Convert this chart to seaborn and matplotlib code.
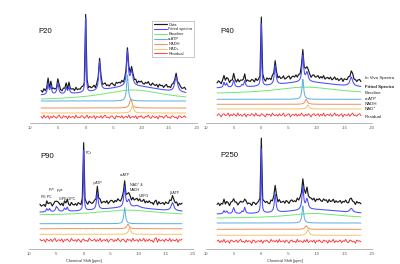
import numpy as np
import matplotlib
matplotlib.use("Agg")
import matplotlib.pyplot as plt
import seaborn as sns

# ---------------- data ----------------
panel_names = ["P20", "P40", "P90", "P250"]
tick_values = [10, 5, 0, -5, -10, -15, -20]
tick_labels = ["10", "5", "0", "-5", "-10", "-15", "-20"]
legend_labels = ["Data", "Fitted spectra", "Baseline", "α-ATP", "NADH", "NAD+", "Residual"]
side_labels = ["In Vivo Spectra", "Fitted Spectra", "Baseline", "α-ATP", "NADH", "NAD⁺", "Residual"]

# fitted peaks: chemical shift [ppm], half width [ppm], amplitude per age
peak_ppm = [6.75, 6.25, 5.0, 4.75, 3.5, 3.0, 0.0, -2.5, -7.5, -8.25, -9.75, -16.25]
peak_hw = [0.15, 0.15, 0.18, 0.18, 0.15, 0.15, 0.08, 0.18, 0.18, 0.25, 0.6, 0.3]
amp_p20 = [11, 8, 11, 0, 6, 6, 74, 29, 34, 14, 0, 15]
amp_p40 = [5, 4, 7, 0, 2, 6, 62, 19, 26, 9, 0, 9]
amp_p90 = [3, 3, 4.5, 2, 3, 4, 60, 16, 20, 7, 2, 8]
amp_p250 = [3, 2.5, 6, 0, 2, 6, 64, 18, 22, 10, 0, 4]

# broad baseline hump per age: amplitude, centre [ppm], width [ppm]
hump_amp = [10.6, 7.0, 5.5, 5.0]
hump_center = [-8.5, -8.0, -8.0, -9.5]
hump_width = [7.0, 7.0, 7.0, 6.0]

# components
alpha_ppm, alpha_hw = -7.5, 0.18
alpha_amp = [26, 20, 16, 17]
nadh_ppm, nadh_hw = -8.1, 0.25
nadh_amp = [9, 5, 4.5, 3.5]
nad_ppm, nad_hw = -8.4, 0.25
nad_amp = [7, 4, 6, 5.5]

# residual (noise) samples, 0.25 ppm apart from 8 to -18 ppm
res_p20 = [1,-2,3,-1,0,2,-3,1,-1,2,0,-2,1,3,-1,
           -2,2,0,1,-3,2,-1,0,1,-2,3,-1,0,-1,2,
           1,-2,0,3,-2,1,-1,0,2,-3,1,0,-1,2,-2,
           1,3,-1,0,-2,1,2,-1,-3,2,0,1,-1,2,-2,
           0,1,-1,3,-2,0,1,-1,2,-3,1,0,2,-1,-2,
           1,0,3,-1,-2,2,0,-1,1,-3,2,0,1,-2,1,
           3,-1,0,-2,2,1,-1,0,-3,2,1,-1,0,2,-1]
res_p40 = [-1,2,0,-3,1,2,-1,0,3,-2,1,-1,2,0,-2,
           3,-1,1,-2,0,2,-3,1,0,-1,2,1,-2,3,-1,
           0,-2,2,1,-1,-3,2,0,1,-2,3,0,-1,1,-2,
           2,-1,0,3,-2,-1,1,2,-3,0,1,-1,2,-2,1,
           -1,3,0,-2,1,-1,2,0,-3,1,2,-1,0,2,-2,
           1,-1,3,-2,0,1,-1,2,-2,0,3,-1,1,-2,0,
           2,-3,1,0,-1,2,-2,1,3,-1,0,-2,1,2,-1]
res_p90 = [2,-1,0,1,-3,2,0,-1,2,-2,1,3,-2,0,1,
           -1,2,-3,1,0,2,-1,-2,3,0,-1,1,-2,2,0,
           -3,1,2,-1,0,-2,3,1,-1,0,2,-2,1,-1,3,
           -2,0,1,-1,2,-3,0,2,1,-2,1,-1,3,0,-2,
           1,2,-1,-3,2,0,1,-2,3,-1,0,1,-2,2,-1,
           0,3,-2,1,-1,2,-1,0,-3,2,4,-3,2,-1,0,
           1,-2,2,0,-1,3,-2,1,0,-1,2,-3,1,0,2]
res_p250 = [0,2,-2,1,-1,3,-2,0,1,-3,2,1,-1,0,2,
            -2,1,3,-1,0,-2,2,-1,1,0,-3,2,1,-2,0,
            1,-1,2,-3,1,0,2,-1,-2,3,0,1,-1,2,-2,
            3,-1,0,1,-2,2,0,-3,1,2,-1,0,-2,3,-1,
            1,0,-2,2,-1,3,-2,0,1,-1,2,-3,1,0,2,
            -1,-2,2,0,1,-3,2,-1,0,3,-2,1,-1,0,2,
            -2,1,0,3,-1,-2,2,1,-1,0,-3,2,0,1,-1]

# P90 peak annotations: text, ppm, height
ann_text = ["PE PC", "Pi$^{in}$", "Pi$^{ex}$", "GPE GPC", "PCr", "γ-ATP", "α-ATP",
            "NAD⁺ &", "NADH", "UDPG", "β-ATP"]
ann_ppm = [6.89, 5.79, 4.33, 3.05, -0.43, -2.53, -7.56, -8.48, -8.48, -10.12, -16.6]
ann_y = [52, 59, 57.5, 50, 96, 66, 74.5, 64, 59.5, 53, 56]
ann_ha = ["center", "center", "center", "center", "left", "center", "center",
          "left", "left", "left", "center"]

# ---------------- layout / style ----------------
amps = [amp_p20, amp_p40, amp_p90, amp_p250]
residuals = [res_p20, res_p40, res_p90, res_p250]
off_data = [30, 39.5, 42.5, 44]
off_fit = [26.4, 34, 36, 34.5]
off_base = [22.4, 28.9, 33.4, 30.5]
off_alpha = [22, 23.7, 25.3, 26]
off_nadh = [15, 18.7, 20.3, 19.7]
off_nad = [10, 14, 14.7, 13.7]
off_res = [6, 8, 8.7, 7.7]
res_scale = 0.65

colors = {"data": "#1a1a1a", "fit": "#4a4aff", "base": "#6fe86f", "alpha": "#5aaee0",
          "nadh": "#f0905a", "nad": "#f5c46a", "res": "#ff2a2a"}

sns.set_style("white")
plt.rcParams['font.family'] = ['Liberation Sans', 'DejaVu Sans']

fig = plt.figure(figsize=(4.0, 2.64), dpi=100)
positions = [(0.075, 0.5341, 0.4175, 0.4356), (0.515, 0.5341, 0.415, 0.4356),
             (0.0725, 0.0568, 0.41, 0.4318), (0.515, 0.0568, 0.415, 0.4318)]
ylims = [115, 115, 114, 114]
title_xy = [(8.56, 91), (7.47, 91), (7.99, 93), (7.34, 93.7)]

x_fine = np.linspace(8, -18, 1041)
x_data = np.linspace(8, -18, 105)


def lorentz(x, c, a, w):
    return a / (1.0 + ((x - c) / w) ** 2)


def peak_sum(x, a_list):
    y = np.zeros_like(x)
    for c, a, w in zip(peak_ppm, a_list, peak_hw):
        y = y + lorentz(x, c, a, w)
    return y


def line(ax, x, y, color, lw=0.7):
    sns.lineplot(x=x, y=y, ax=ax, color=color, lw=lw, estimator=None, sort=False, legend=False)
    return ax.lines[-1]


for i in range(4):
    ax = fig.add_axes(positions[i])
    res = np.array(residuals[i], dtype=float) * res_scale
    hump_f = lorentz(x_fine, hump_center[i], hump_amp[i], hump_width[i])
    hump_d = lorentz(x_data, hump_center[i], hump_amp[i], hump_width[i])

    h = {}
    h["Baseline"] = line(ax, x_fine, off_base[i] + hump_f, colors["base"])
    h["α-ATP"] = line(ax, x_fine, off_alpha[i] + lorentz(x_fine, alpha_ppm, alpha_amp[i], alpha_hw), colors["alpha"])
    h["NADH"] = line(ax, x_fine, off_nadh[i] + lorentz(x_fine, nadh_ppm, nadh_amp[i], nadh_hw), colors["nadh"])
    h["NAD+"] = line(ax, x_fine, off_nad[i] + lorentz(x_fine, nad_ppm, nad_amp[i], nad_hw), colors["nad"])
    h["Residual"] = line(ax, x_data, off_res[i] + res, colors["res"], lw=0.6)
    h["Data"] = line(ax, x_data, off_data[i] + hump_d + peak_sum(x_data, amps[i]) + res, colors["data"], lw=0.85)
    h["Fitted spectra"] = line(ax, x_fine, off_fit[i] + hump_f + peak_sum(x_fine, amps[i]), colors["fit"], lw=0.75)

    ax.set_xlim(10, -20)
    ax.set_ylim(0, ylims[i])
    ax.set_yticks([])
    ax.set_xticks(tick_values)
    ax.set_xticklabels(tick_labels)
    ax.tick_params(axis="x", length=1.5, width=0.4, pad=1, labelsize=3, colors="#555555")
    for s in ["left", "top", "right"]:
        ax.spines[s].set_visible(False)
    ax.spines["bottom"].set_color("#999999")
    ax.spines["bottom"].set_linewidth(0.5)
    ax.set_facecolor("none")

    ax.text(title_xy[i][0], title_xy[i][1], panel_names[i], fontsize=5.6, ha="left", va="center",
            color="#111111")

    if i == 0:
        handles = [h[k] for k in ["Data", "Fitted spectra", "Baseline", "α-ATP", "NADH", "NAD+", "Residual"]]
        leg = ax.legend(handles, legend_labels, loc="upper left", bbox_to_anchor=(0.7305, 0.887),
                        fontsize=2.85, handlelength=3.3, handletextpad=0.4, labelspacing=0.22,
                        borderpad=0.4, frameon=True, fancybox=False, borderaxespad=0)
        leg.get_frame().set_edgecolor("#888888")
        leg.get_frame().set_linewidth(0.4)
    if i == 1:
        side_y = [45, 36, 30, 24, 19, 14, 6]
        for lab, yy in zip(side_labels, side_y):
            ax.text(-18.7, yy, lab, fontsize=3.2, ha="left", va="center", color="#222222",
                    fontweight="bold" if lab == "Fitted Spectra" else "normal", clip_on=False)
    if i == 2:
        for t, xx, yy, ha in zip(ann_text, ann_ppm, ann_y, ann_ha):
            ax.text(xx, yy, t, fontsize=2.6, ha=ha, va="center", color="#222222")
        ax.set_xlabel("Chemical Shift [ppm]", fontsize=2.8, color="#333333", labelpad=1)
        ax.xaxis.set_label_coords(0.335, -0.085)
    if i == 3:
        ax.set_xlabel("Chemical Shift [ppm]", fontsize=2.8, color="#333333", labelpad=1)
        ax.xaxis.set_label_coords(0.476, -0.085)

fig.savefig("out.png", dpi=100, facecolor="white")
